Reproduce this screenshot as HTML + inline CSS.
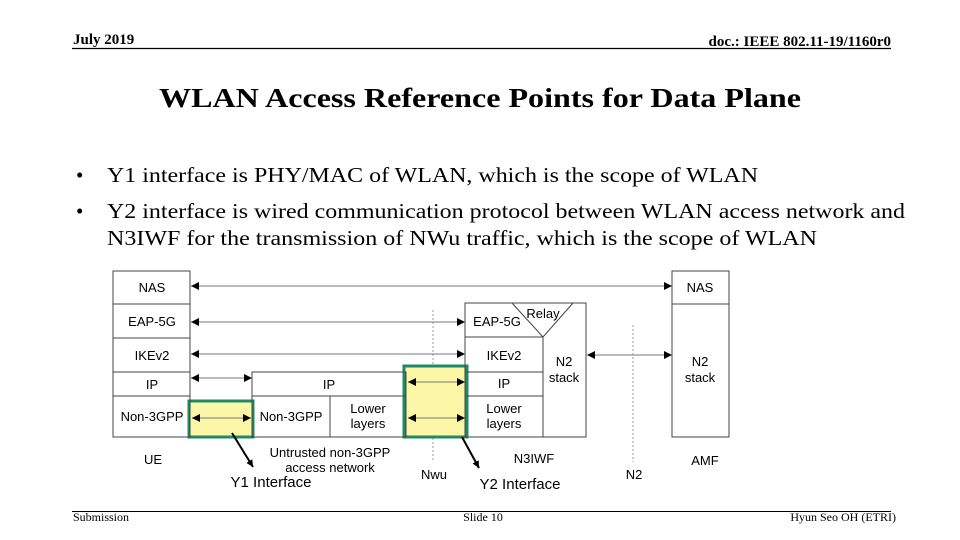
<!DOCTYPE html>
<html><head><meta charset="utf-8"><style>
html,body{margin:0;padding:0;background:#fff;}
svg{display:block;}
.s{font-family:"Liberation Serif",serif;}
.a{font-family:"Liberation Sans",sans-serif;font-size:13px;fill:#000;text-anchor:middle;}
</style></head><body>
<svg width="960" height="540" viewBox="0 0 960 540" xmlns="http://www.w3.org/2000/svg">
<defs>
<marker id="ah" viewBox="0 0 10 10" refX="10" refY="5" markerWidth="14" markerHeight="8" markerUnits="userSpaceOnUse" orient="auto-start-reverse"><path d="M0,0 L10,5 L0,10 z" fill="#000"/></marker>
<marker id="ah2" viewBox="0 0 10 10" refX="10" refY="5" markerWidth="7" markerHeight="7" markerUnits="userSpaceOnUse" orient="auto"><path d="M0,0 L10,5 L0,10 z" fill="#000"/></marker>
</defs>
<!-- header -->
<text x="73" y="44" class="s" font-size="15" font-weight="bold">July 2019</text>
<text x="891" y="46" class="s" font-size="15" font-weight="bold" text-anchor="end">doc.: IEEE 802.11-19/1160r0</text>
<line x1="72" y1="48.5" x2="891" y2="48.5" stroke="#000" stroke-width="1.3"/>
<text x="480" y="107" class="s" font-size="27" font-weight="bold" text-anchor="middle" textLength="642" lengthAdjust="spacingAndGlyphs">WLAN Access Reference Points for Data Plane</text>
<!-- bullets -->
<g class="s" font-size="21">
<text x="76" y="182">•</text>
<text x="107" y="182" textLength="651" lengthAdjust="spacingAndGlyphs">Y1 interface is PHY/MAC of WLAN, which is the scope of WLAN</text>
<text x="76" y="218">•</text>
<text x="107" y="218" textLength="798" lengthAdjust="spacingAndGlyphs">Y2 interface is wired communication protocol between WLAN access network and</text>
<text x="107" y="245" textLength="710" lengthAdjust="spacingAndGlyphs">N3IWF for the transmission of NWu traffic, which is the scope of WLAN</text>
</g>
<!-- dashed lines -->
<line x1="433" y1="310" x2="433" y2="462" stroke="#999" stroke-dasharray="2,2"/>
<line x1="633" y1="325" x2="633" y2="462" stroke="#999" stroke-dasharray="2,2"/>
<!-- yellow boxes -->
<rect x="189" y="401" width="64" height="36" fill="#fbf7a6" stroke="#1f8a63" stroke-width="3"/>
<rect x="404" y="366" width="63" height="71" fill="#fbf7a6" stroke="#1f8a63" stroke-width="3"/>
<g fill="none" stroke="#444" stroke-width="1">
<!-- UE -->
<rect x="113" y="271" width="77" height="166"/>
<line x1="113" y1="304" x2="190" y2="304"/><line x1="113" y1="338" x2="190" y2="338"/>
<line x1="113" y1="372" x2="190" y2="372"/><line x1="113" y1="396" x2="190" y2="396"/>
<!-- middle -->
<rect x="252" y="372" width="154" height="65"/>
<line x1="252" y1="396" x2="406" y2="396"/><line x1="330" y1="396" x2="330" y2="437"/>
<!-- N3IWF -->
<rect x="465" y="303" width="121" height="134"/>
<line x1="465" y1="337" x2="543" y2="337"/><line x1="465" y1="372" x2="543" y2="372"/>
<line x1="465" y1="396" x2="543" y2="396"/><line x1="543" y1="337" x2="543" y2="437"/>
<polyline points="512,303 543,337 573,303"/>
<!-- AMF -->
<rect x="672" y="271" width="57" height="166"/>
<line x1="672" y1="304" x2="729" y2="304"/>
</g>
<!-- arrows -->
<g stroke="#777" stroke-width="1">
<line x1="191" y1="286" x2="672" y2="286" marker-start="url(#ah)" marker-end="url(#ah)"/>
<line x1="191" y1="322" x2="465" y2="322" marker-start="url(#ah)" marker-end="url(#ah)"/>
<line x1="191" y1="354" x2="465" y2="354" marker-start="url(#ah)" marker-end="url(#ah)"/>
<line x1="191" y1="378" x2="252" y2="378" marker-start="url(#ah)" marker-end="url(#ah)"/>
<line x1="408" y1="382" x2="465" y2="382" marker-start="url(#ah)" marker-end="url(#ah)"/>
<line x1="408" y1="418" x2="465" y2="418" marker-start="url(#ah)" marker-end="url(#ah)"/>
<line x1="192" y1="418" x2="251" y2="418" marker-start="url(#ah)" marker-end="url(#ah)"/>
<line x1="587" y1="355" x2="672" y2="355" marker-start="url(#ah)" marker-end="url(#ah)"/>
</g>
<!-- pointer arrows -->
<line x1="232" y1="433" x2="253" y2="467" stroke="#000" stroke-width="2" marker-end="url(#ah2)"/>
<line x1="462" y1="437" x2="479" y2="468" stroke="#000" stroke-width="2" marker-end="url(#ah2)"/>
<!-- labels -->
<g class="a">
<text x="152" y="292">NAS</text><text x="152" y="326">EAP-5G</text><text x="152" y="360">IKEv2</text>
<text x="152" y="389">IP</text><text x="152" y="421">Non-3GPP</text>
<text x="329" y="389">IP</text><text x="291" y="421">Non-3GPP</text>
<text x="368" y="413">Lower</text><text x="368" y="428">layers</text>
<text x="497" y="326">EAP-5G</text><text x="543" y="318">Relay</text>
<text x="504" y="360">IKEv2</text><text x="504" y="388">IP</text>
<text x="504" y="413">Lower</text><text x="504" y="428">layers</text>
<text x="564" y="366">N2</text><text x="564" y="382">stack</text>
<text x="700" y="292">NAS</text><text x="700" y="366">N2</text><text x="700" y="382">stack</text>
<text x="153" y="464">UE</text>
<text x="330" y="457">Untrusted non-3GPP</text><text x="330" y="472">access network</text>
<text x="434" y="479">Nwu</text><text x="534" y="463">N3IWF</text>
<text x="634" y="479">N2</text><text x="705" y="465">AMF</text>
</g>
<text x="271" y="487" font-family="Liberation Sans,sans-serif" font-size="15" text-anchor="middle">Y1 Interface</text>
<text x="520" y="489" font-family="Liberation Sans,sans-serif" font-size="15" text-anchor="middle">Y2 Interface</text>
<!-- footer -->
<line x1="72" y1="511.5" x2="891" y2="511.5" stroke="#000" stroke-width="1"/>
<text x="73" y="521" class="s" font-size="12">Submission</text>
<text x="483" y="521" class="s" font-size="12" text-anchor="middle">Slide 10</text>
<text x="896" y="521" class="s" font-size="12" text-anchor="end">Hyun Seo OH (ETRI)</text>
</svg>
</body></html>
